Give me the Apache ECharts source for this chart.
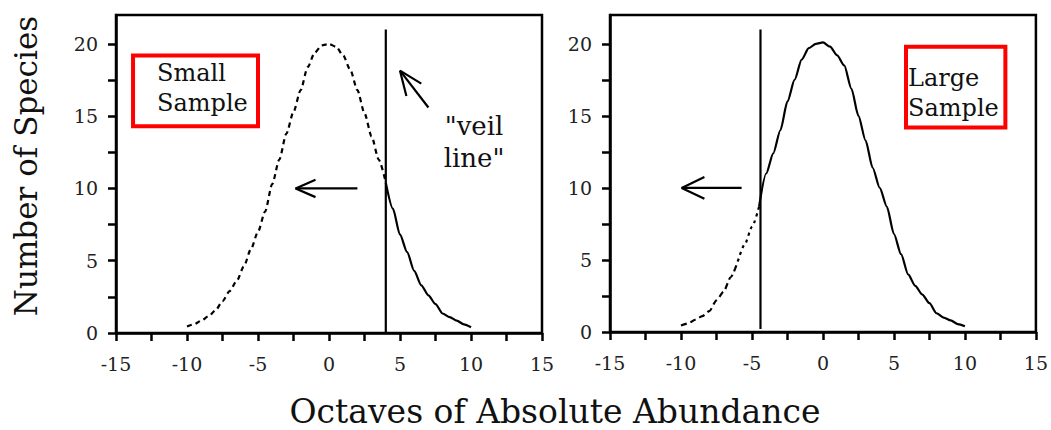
<!DOCTYPE html>
<html>
<head>
<meta charset="utf-8">
<script src="https://cdn.jsdelivr.net/npm/echarts@6/dist/echarts.min.js"></script>
<style>
html,body{margin:0;padding:0;background:#fff;}
#chart{width:1051px;height:430px;}
</style>
</head>
<body>
<div id="chart"></div>
<script>
// ---- data ----
const octaves = [-10,-9.5,-9,-8.5,-8,-7.5,-7,-6.5,-6,-5.5,-5,-4.5,-4,-3.5,-3,-2.5,-2,-1.5,-1,-0.5,0,0.5,1,1.5,2,2.5,3,3.5,4,4.5,5,5.5,6,6.5,7,7.5,8,8.5,9,9.5,10];
const smallSpecies = [0.45,0.6,0.85,1.15,1.55,2.2,2.9,3.6,4.6,5.8,7.0,8.4,10.3,12.0,13.8,15.3,16.8,18.4,19.4,19.9,20.0,19.8,19.2,18.2,16.8,15.2,13.6,12.0,10.4,8.6,6.8,5.6,4.3,3.3,2.6,2.0,1.35,1.1,0.85,0.6,0.4];
const largeSpecies = [0.45,0.6,0.85,1.1,1.45,2.2,2.8,3.8,4.9,6.1,7.3,8.7,11.0,12.4,14.0,16.0,17.5,18.9,19.7,20.0,20.1,19.8,19.2,18.5,16.9,15.0,13.3,11.4,10.0,8.7,6.8,5.4,4.0,3.2,2.6,2.0,1.3,1.0,0.8,0.55,0.4];
const smallVeil = 4;      // veil line position, small sample
const largeVeil = -4.4;   // veil line position, large sample
const veilTop = 21;
const xTicks = [-15,-12.5,-10,-7.5,-5,-2.5,0,2.5,5,7.5,10,12.5,15];
const xLabels = [-15,-10,-5,0,5,10,15];
const yTicks = [0,2.5,5,7.5,10,12.5,15,17.5,20];
const yLabels = [0,5,10,15,20];
const xTitle = 'Octaves of Absolute Abundance';
const yTitle = 'Number of Species';
const smallBoxText = 'Small\nSample';
const largeBoxText = 'Large\nSample';
const veilText = '"veil\nline"';
// annotation arrows (data units)
const smallArrowH = {tail:[2.0,10], head:[-2.35,10], arm1:[-0.95,10.6], arm2:[-0.95,9.4]};
const smallArrowD = {tail:[7.0,15.6], head:[5.0,18.15], arm1:[6.5,17.25], arm2:[5.45,16.4]};
const largeArrowH = {tail:[-5.73,10], head:[-9.95,10], arm1:[-8.35,10.75], arm2:[-8.35,9.25]};
const smallBox = [[-13.8,19.2],[-5.0,14.3]];
const largeBox = [[5.85,19.8],[12.85,14.2]];

// ---- build ----
const pts = (xs, ys) => xs.map((x,i)=>[x, ys[i]]);
const smallPts = pts(octaves, smallSpecies);
const largePts = pts(octaves, largeSpecies);
const smallDashed = smallPts.filter(p=>p[0] <= smallVeil);
const smallSolid = smallPts.filter(p=>p[0] >= smallVeil);
const largeDashed = largePts.filter(p=>p[0] <= -6);
const largeDotted = largePts.filter(p=>p[0] >= -6 && p[0] <= -4.5);
const largeSolid = largePts.filter(p=>p[0] >= -4.5);

const FONT = 'DejaVu Serif';
const black = '#000';

function xAxis(gi){
  return {
    type:'value', gridIndex:gi, min:-15, max:15, interval:2.5,
    axisLine:{show:true, onZero:false, lineStyle:{color:black, width:2.5}},
    axisTick:{show:true, length:8, customValues:xTicks, lineStyle:{color:black, width:2.5}},
    axisLabel:{customValues:xLabels, margin:21, fontFamily:FONT, fontSize:19, color:'#222'},
    splitLine:{show:false}
  };
}
function yAxis(gi){
  return {
    type:'value', gridIndex:gi, min:0, max:22, interval:2.5,
    axisLine:{show:true, onZero:false, lineStyle:{color:black, width:2.5}},
    axisTick:{show:true, length:8, customValues:yTicks, lineStyle:{color:black, width:2.5}},
    axisLabel:{customValues:yLabels, margin:18, fontFamily:FONT, fontSize:19, color:'#222'},
    splitLine:{show:false}
  };
}
function line(gi, data, type, extra){
  return Object.assign({
    type:'line', xAxisIndex:gi, yAxisIndex:gi, data:data, symbol:'none', silent:true,
    lineStyle:{color:black, width:2.2, type:type || 'solid', cap:'butt'},
    z:3
  }, extra||{});
}
function curve(gi, data, type, extra){
  return line(gi, data, type, Object.assign({smooth:0.25, smoothMonotone:'x'}, extra||{}));
}
function boxArea(box, text, pad){
  return {
    silent:true,
    itemStyle:{color:'rgba(0,0,0,0)', borderColor:'#ff0000', borderWidth:4},
    label:{show:true, position:'insideTopLeft', distance:0, padding:pad, formatter:text,
           fontFamily:FONT, fontSize:24, lineHeight:30, color:'#111'},
    data:[[{coord:box[0]},{coord:box[1]}]]
  };
}
function arrow(gi, a){
  return [
    line(gi, [a.tail, a.head]),
    line(gi, [a.arm1, a.head, a.arm2])
  ];
}

const option = {
  animation:false,
  backgroundColor:'#fff',
  grid:[
    {left:116, top:15, width:426, height:318, show:true, borderColor:black, borderWidth:2.5},
    {left:610, top:15, width:426, height:317, show:true, borderColor:black, borderWidth:2.5}
  ],
  xAxis:[xAxis(0), xAxis(1)],
  yAxis:[yAxis(0), yAxis(1)],
  series:[
    curve(0, smallDashed, [5,4], {markArea: boxArea(smallBox, smallBoxText, [5,0,0,26])}),
    curve(0, smallSolid, 'solid'),
    line(0, [[smallVeil,0],[smallVeil,veilTop]]),
    ...arrow(0, smallArrowH),
    ...arrow(0, smallArrowD),
    curve(1, largeDashed, [6,4], {markArea: boxArea(largeBox, largeBoxText, [18,0,0,4])}),
    curve(1, largeDotted, [3,4]),
    curve(1, largeSolid, 'solid'),
    line(1, [[largeVeil,0.2],[largeVeil,veilTop]]),
    ...arrow(1, largeArrowH)
  ],
  graphic:[
    {type:'text', x:555, y:411, style:{text:xTitle, font:'33px "'+FONT+'"', fill:'#111', align:'center', verticalAlign:'middle'}},
    {type:'text', x:26, y:166, rotation:Math.PI/2, style:{text:yTitle, font:'31px "'+FONT+'"', fill:'#111', align:'center', verticalAlign:'middle'}},
    {type:'text', x:474, y:142, style:{text:veilText, font:'26px "'+FONT+'"', fill:'#111', align:'center', verticalAlign:'middle', lineHeight:32}}
  ]
};
const chart = echarts.init(document.getElementById('chart'), null, {renderer:'svg'});
chart.setOption(option);
</script>
</body>
</html>
